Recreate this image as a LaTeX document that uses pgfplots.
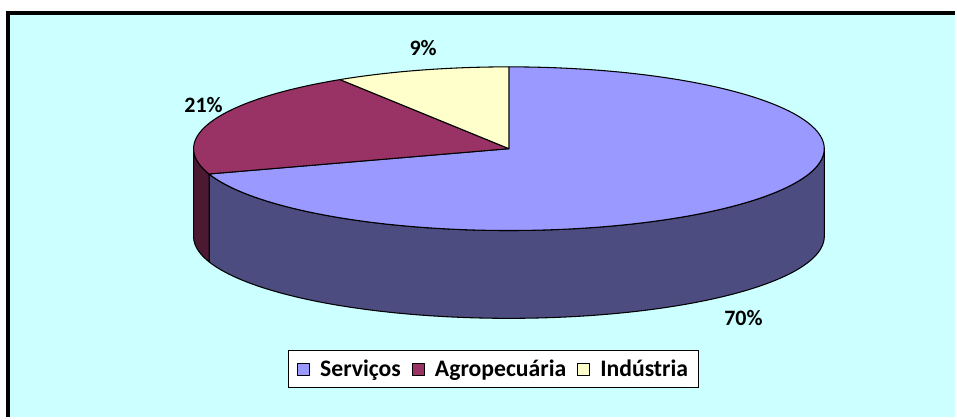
\documentclass[border=0pt]{standalone}
\usepackage{pgfplots}
\pgfplotsset{compat=1.18}
\usepackage{pgfplotstable}
\usepackage{fontspec}
\setmainfont{Carlito}
\definecolor{serv}{HTML}{9999FF}
\definecolor{servd}{HTML}{4C4C80}
\definecolor{agro}{HTML}{993366}
\definecolor{agrod}{HTML}{4C1933}
\definecolor{indu}{HTML}{FFFFCC}
\definecolor{bg}{HTML}{CCFFFF}

\pgfplotstableread{
label value
Servicos 70
Agropecuaria 21
Industria 9
}\piedata

\begin{document}%
\begin{tikzpicture}
\pgfplotstablegetelem{0}{value}\of\piedata \let\vS\pgfplotsretval
\pgfplotstablegetelem{1}{value}\of\piedata \let\vA\pgfplotsretval
\pgfplotstablegetelem{2}{value}\of\piedata \let\vI\pgfplotsretval
% slice boundaries (degrees), clockwise from 12 o'clock
\pgfmathsetmacro\aS{90-3.6*\vS}
\pgfmathsetmacro\aA{\aS-3.6*\vA}
\pgfmathsetmacro\aI{\aA-3.6*\vI}
% visible front wall parts (angles between -180 and 0)
\pgfmathsetmacro\sSa{max(\aS,-180)}
\pgfmathsetmacro\sSb{min(90,0)}
\pgfmathsetmacro\sAa{max(\aA,-180)}
\pgfmathsetmacro\sAb{min(\aS,0)}
\fill[white] (0,0) rectangle (717.75pt,313.5pt);
\fill[bg] (6pt,0) rectangle (717.75pt,303.75pt);
\draw[line width=3pt, line join=miter] (6pt,0) -- (6pt,303.75pt) -- (717.75pt,303.75pt);
\begin{axis}[
  at={(0,0)}, anchor=south west,
  scale only axis, width=717.75pt, height=313.5pt,
  xmin=0, xmax=957, ymin=0, ymax=418, y dir=reverse,
  hide axis, clip=false,
  legend columns=3,
  legend style={at={(0.517,0.115)}, anchor=center, draw=black, line width=0.6pt,
    fill=white, font=\fontsize{17.8}{20}\selectfont\bfseries,
    inner xsep=6pt, inner ysep=5pt, column sep=6pt},
  legend image code/.code={\draw[#1, line width=0.6pt] (0pt,-4.5pt) rectangle (9pt,4.5pt);},
  every axis plot/.append style={line join=round},
]
% front walls: top arc a->b, vertical edge at b, bottom arc b->a, close
\addplot[fill=servd, draw=black, line width=0.8pt, forget plot, domain=0:3, samples=361, variable=\s]
  ({510+316*cos(\s<=1 ? \sSa+(\sSb-\sSa)*\s : (\s<=2 ? \sSb : \sSb-(\sSb-\sSa)*(\s-2)))},
   {149-82*sin(\s<=1 ? \sSa+(\sSb-\sSa)*\s : (\s<=2 ? \sSb : \sSb-(\sSb-\sSa)*(\s-2))) + (\s<=1 ? 0 : (\s<=2 ? 88*(\s-1) : 88))}) -- cycle;
\addplot[fill=agrod, draw=black, line width=0.8pt, forget plot, domain=0:3, samples=91, variable=\s]
  ({510+316*cos(\s<=1 ? \sAa+(\sAb-\sAa)*\s : (\s<=2 ? \sAb : \sAb-(\sAb-\sAa)*(\s-2)))},
   {149-82*sin(\s<=1 ? \sAa+(\sAb-\sAa)*\s : (\s<=2 ? \sAb : \sAb-(\sAb-\sAa)*(\s-2))) + (\s<=1 ? 0 : (\s<=2 ? 88*(\s-1) : 88))}) -- cycle;
% top sectors
\addplot[fill=serv, draw=black, line width=0.8pt, domain=\aS:90, samples=150, variable=\t]
  ({510+316*cos(\t)}, {149-82*sin(\t)}) -- (axis cs:510,149) -- cycle;
\addlegendentry{Serviços}
\addplot[fill=agro, draw=black, line width=0.8pt, domain=\aA:\aS, samples=60, variable=\t]
  ({510+316*cos(\t)}, {149-82*sin(\t)}) -- (axis cs:510,149) -- cycle;
\addlegendentry{Agropecuária}
\addplot[fill=indu, draw=black, line width=0.8pt, domain=\aI:\aA, samples=40, variable=\t]
  ({510+316*cos(\t)}, {149-82*sin(\t)}) -- (axis cs:510,149) -- cycle;
\addlegendentry{Indústria}
% data labels
\node[font=\fontsize{16.5}{19}\selectfont\bfseries] at (axis cs:424,48) {\vI\%};
\node[font=\fontsize{16.5}{19}\selectfont\bfseries] at (axis cs:204,105) {\vA\%};
\node[font=\fontsize{16.5}{19}\selectfont\bfseries] at (axis cs:745,319) {\vS\%};
\end{axis}
\end{tikzpicture}%
\end{document}
